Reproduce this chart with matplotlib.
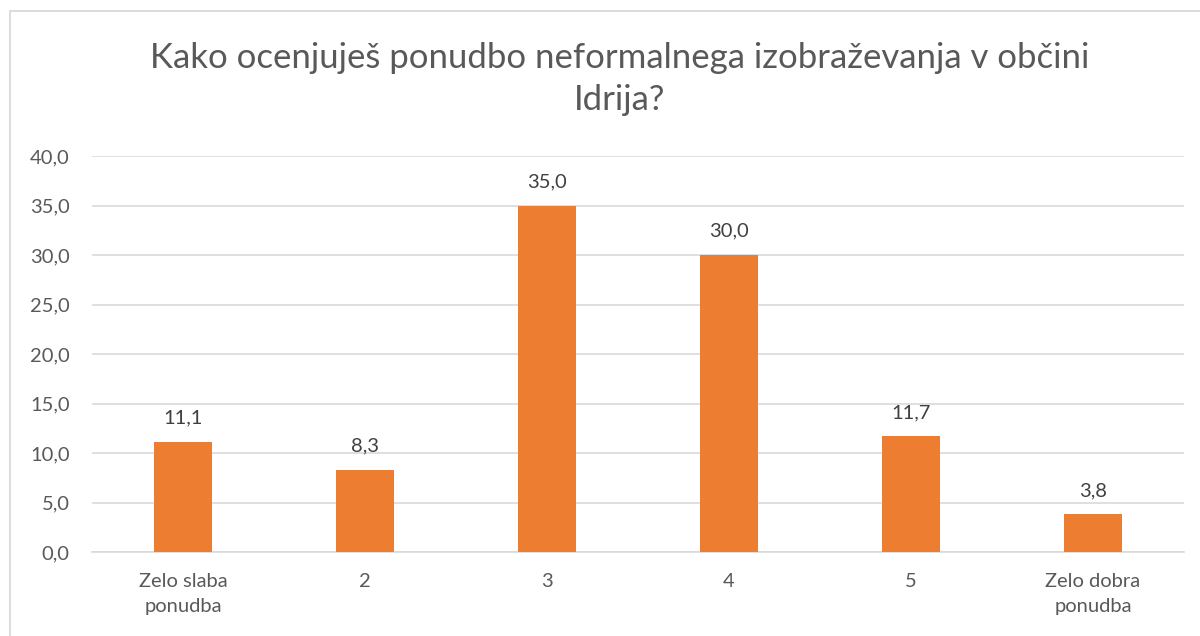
import matplotlib.pyplot as plt
from matplotlib.patches import Rectangle

plt.rcParams['font.family'] = ['Lato', 'DejaVu Sans']

title = 'Kako ocenjuješ ponudbo neformalnega izobraževanja v občini\nIdrija?'
categories = ['Zelo slaba\nponudba', '2', '3', '4', '5', 'Zelo dobra\nponudba']
values = [11.1, 8.3, 35.0, 30.0, 11.7, 3.8]
yticks = [0, 5, 10, 15, 20, 25, 30, 35, 40]

text_color = '#595959'
bar_color = '#ED7D31'
grid_color = '#D9D9D9'

fig = plt.figure(figsize=(12, 6.36), dpi=100)
ax = fig.add_axes([92 / 1200, 1 - 552 / 636, 1092 / 1200, 396 / 636])

x = range(len(categories))
bars = ax.bar(x, values, width=0.315, color=bar_color, zorder=3)

for b, v in zip(bars, values):
    ax.annotate(f'{v:.1f}'.replace('.', ','), (b.get_x() + b.get_width() / 2, v),
                xytext=(0, 11), textcoords='offset points', ha='center', va='bottom',
                fontsize=14.5, color='#404040')

ax.set_xlim(-0.5, len(categories) - 0.5)
ax.set_ylim(0, 40)
ax.set_yticks(yticks)
ax.set_yticklabels([f'{t:.1f}'.replace('.', ',') for t in yticks])
ax.set_xticks(list(x))
ax.set_xticklabels(categories, linespacing=1.55)
ax.tick_params(axis='both', length=0, labelsize=14.5, labelcolor=text_color)
ax.tick_params(axis='x', pad=15)
ax.tick_params(axis='y', pad=16)
ax.grid(axis='y', color=grid_color, linewidth=1.2, zorder=0)
for s in ['top', 'right', 'left']:
    ax.spines[s].set_visible(False)
ax.spines['bottom'].set_color(grid_color)
ax.spines['bottom'].set_linewidth(1.2)

fig.text(620 / 1200, 1 - 79 / 636, title, ha='center', va='center',
         fontsize=25, color=text_color, linespacing=1.4)

fig.patches.append(Rectangle((10 / 1200, -0.05), 1.1, 1 - 11 / 636 + 0.05,
                             transform=fig.transFigure, fill=False,
                             edgecolor='#D9D9D9', linewidth=1.3))

fig.savefig('out.png', dpi=100)
